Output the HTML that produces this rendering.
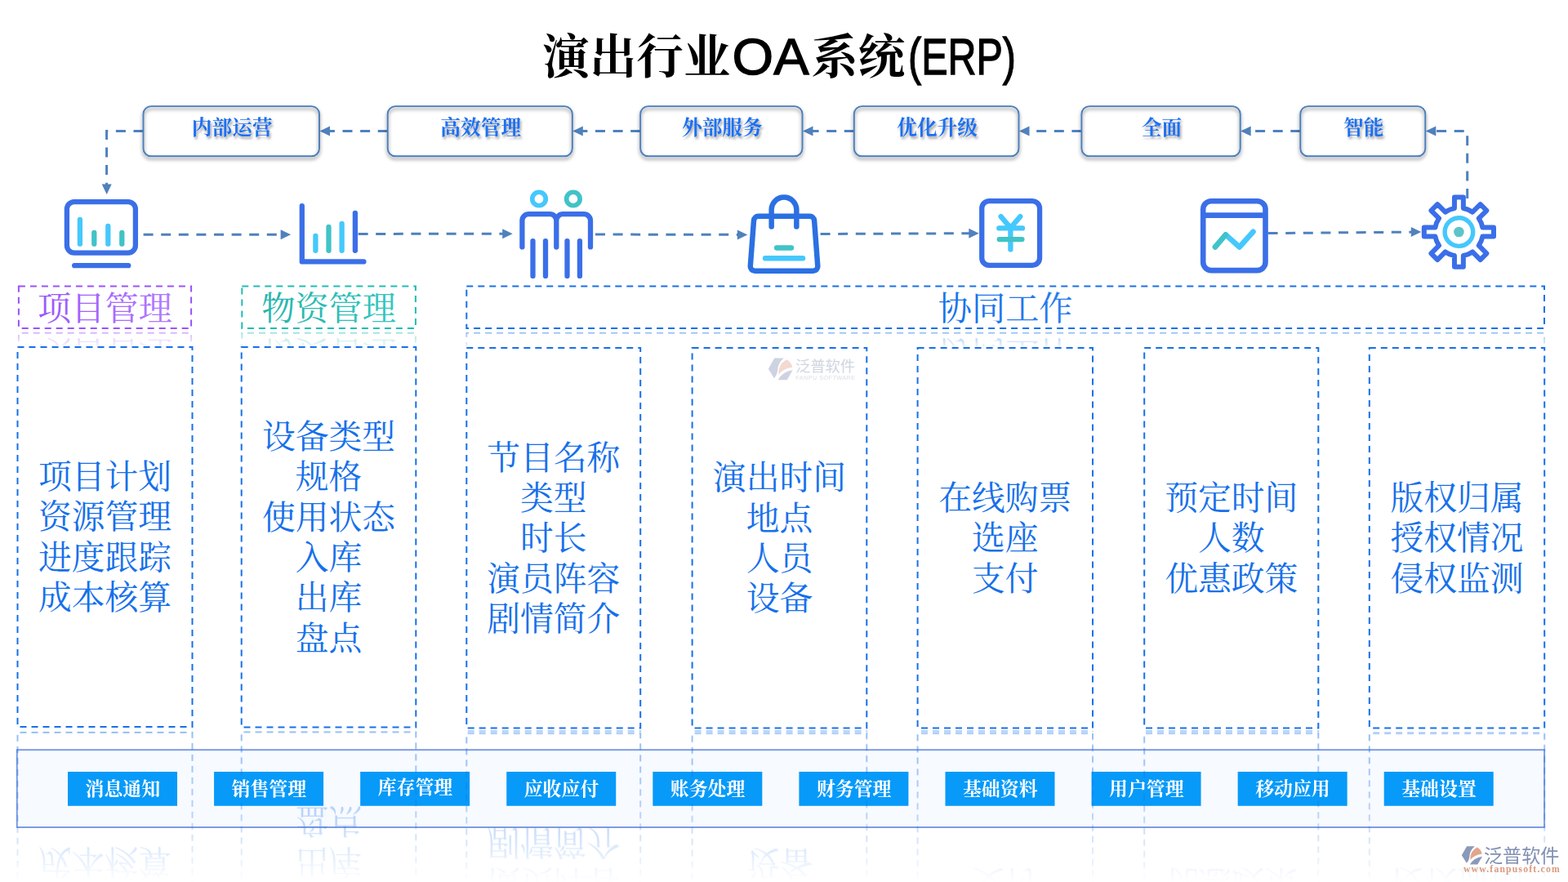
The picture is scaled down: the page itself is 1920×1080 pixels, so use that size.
<!DOCTYPE html>
<html lang="zh-CN"><head><meta charset="utf-8"><title>演出行业OA系统(ERP)</title>
<style>
html,body{margin:0;padding:0;background:#fff;}
body{width:1920px;height:1080px;overflow:hidden;font-family:"Liberation Sans",sans-serif;}
svg{display:block;}
svg text{font-family:"Liberation Sans",sans-serif;}
svg text.cs{font-family:"Liberation Serif","Noto Serif CJK SC",serif;}
svg text.cn{font-family:"Liberation Sans","Noto Sans CJK SC",sans-serif;}
</style></head><body>
<svg width="1920" height="1080" viewBox="0 0 1920 1080" role="img" aria-label="演出行业OA系统(ERP)">
<defs><filter id="bsh" x="-5%" y="-20%" width="110%" height="150%"><feDropShadow dx="0" dy="3" stdDeviation="1.9" flood-color="#000" flood-opacity=".5"/></filter><filter id="tsh" x="-10%" y="-30%" width="120%" height="170%"><feDropShadow dx="1.6" dy="3" stdDeviation="1.7" flood-color="#000" flood-opacity=".36"/></filter><linearGradient id="gp" gradientUnits="userSpaceOnUse" x1="0" y1="0" x2="4000" y2="0"><stop offset="0" stop-color="#9a55fc"/><stop offset="1" stop-color="#b27bff"/></linearGradient><linearGradient id="gt" gradientUnits="userSpaceOnUse" x1="0" y1="0" x2="4000" y2="0"><stop offset="0" stop-color="#27b3ac"/><stop offset="1" stop-color="#33c6c0"/></linearGradient><linearGradient id="gb" gradientUnits="userSpaceOnUse" x1="0" y1="0" x2="4000" y2="0"><stop offset="0" stop-color="#1670ea"/><stop offset="1" stop-color="#2a7cf0"/></linearGradient><linearGradient id="fh" x1="0" y1="0" x2="0" y2="1"><stop offset="0" stop-color="#fff" stop-opacity=".46"/><stop offset="1" stop-color="#fff" stop-opacity="0"/></linearGradient><mask id="mh" maskUnits="userSpaceOnUse" x="0" y="404" width="1920" height="30"><rect x="0" y="404.8" width="1920" height="23.5" fill="url(#fh)"/></mask><linearGradient id="fc" x1="0" y1="0" x2="0" y2="1"><stop offset="0" stop-color="#fff" stop-opacity=".46"/><stop offset=".6" stop-color="#fff" stop-opacity=".25"/><stop offset=".8" stop-color="#fff" stop-opacity=".13"/><stop offset=".97" stop-color="#fff" stop-opacity=".012"/><stop offset="1" stop-color="#fff" stop-opacity="0"/></linearGradient><mask id="mc" maskUnits="userSpaceOnUse" x="0" y="893" width="1920" height="190"><rect x="0" y="893.3" width="1920" height="190" fill="url(#fc)"/></mask><clipPath id="cl2"><rect x="560" y="894.2" width="1100" height="1.6"/></clipPath></defs>
<g id="title"><text class="cs" x="664.3" y="90.3" font-size="57.6" font-weight="bold" fill="#000">演出行业</text><text x="896.6" y="90.8" font-size="62.4" textLength="94" lengthAdjust="spacingAndGlyphs" fill="#000" stroke="#000" stroke-width="1.3">OA</text><text class="cs" x="993.2" y="90.3" font-size="57.6" font-weight="bold" fill="#000">系统</text><text x="1112" y="90.8" font-size="62.4" textLength="132" lengthAdjust="spacingAndGlyphs" fill="#000" stroke="#000" stroke-width="1.3">(ERP)</text></g><g id="conn" fill="none" stroke="#4f81bd" stroke-width="3" stroke-dasharray="12 9.6"><path d="M474.7 160.6H399"/><path d="M784.2 160.6H708.8"/><path d="M1045.8 160.6H990.5"/><path d="M1324.4 160.6H1255.5"/><path d="M1592.3 160.6H1526.7"/><path d="M175.5 160.6H130.6V228"/><path d="M1796.7 243V160.6H1755"/><path d="M175.6 287.3L345 287.3"/><path d="M438.6 286.4L617 286.3"/><path d="M729 287L904 287.4"/><path d="M1004.6 286.5L1188 285.7"/><path d="M1552.6 285.6L1729 284.1"/></g><g fill="#4f81bd"><path d="M391.5 160.6L404 154.6L404 166.6z"/><path d="M701.3 160.6L713.8 154.6L713.8 166.6z"/><path d="M983 160.6L995.5 154.6L995.5 166.6z"/><path d="M1248 160.6L1260.5 154.6L1260.5 166.6z"/><path d="M1519.2 160.6L1531.7 154.6L1531.7 166.6z"/><path d="M1745.8 160.6L1758.3 154.6L1758.3 166.6z"/><path d="M130.7 237.9L124.7 225.4L136.7 225.4z"/><path d="M356.1 287.3L343.6 281.3L343.6 293.3z"/><path d="M627.7 286.3L615.2 280.3L615.2 292.3z"/><path d="M915.3 287.4L902.8 281.4L902.8 293.4z"/><path d="M1198.8 285.7L1186.3 279.7L1186.3 291.7z"/><path d="M1740.3 284.1L1727.8 278.1L1727.8 290.1z"/></g><g id="topboxes"><g fill="none" stroke="#4a7ebb" stroke-width="1.9" filter="url(#bsh)"><rect x="175.5" y="130.1" width="215.5" height="61.2" rx="9.5"/><rect x="474.7" y="130.1" width="226.1" height="61.2" rx="9.5"/><rect x="784.2" y="130.1" width="198.3" height="61.2" rx="9.5"/><rect x="1045.8" y="130.1" width="201.7" height="61.2" rx="9.5"/><rect x="1324.4" y="130.1" width="194.3" height="61.2" rx="9.5"/><rect x="1592.3" y="130.1" width="153" height="61.2" rx="9.5"/></g><g fill="#1f6ff0" filter="url(#tsh)" font-size="24.7" font-weight="bold"><text class="cs" x="234.85" y="164.59">内部运营</text><text class="cs" x="539.35" y="164.59">高效管理</text><text class="cs" x="834.95" y="164.59">外部服务</text><text class="cs" x="1098.25" y="164.59">优化升级</text><text class="cs" x="1397.85" y="164.59">全面</text><text class="cs" x="1645.1" y="164.59">智能</text></g></g><g id="icons" fill="none" stroke-linecap="round" stroke-linejoin="round" stroke-width="6.3" stroke="#3b6fe8"><rect x="81.9" y="247.1" width="84" height="62.5" rx="9"/><path d="M91.2 325.2H157.2"/><path stroke="#45c8fd" d="M97.9 269V298.7M132.3 277V298.7"/><path stroke="#41c3c7" d="M115.3 285V298.7M149.3 285V298.7"/><path d="M369.8 252.2V320.4H445.4M434.9 260.8V306.8"/><path stroke="#45c8fd" d="M386.4 289V306.8M418.6 273.8V306.8"/><path stroke="#41c3c7" d="M402.5 278V306.8"/><circle cx="660" cy="243.5" r="8.25" stroke="#45c8fd" stroke-width="5.7"/><circle cx="701.9" cy="243.5" r="8.25" stroke="#41c3c7" stroke-width="5.7"/><path d="M639.4 302.4V270.2a8 8 0 0 1 8-8H673.3a8 8 0 0 1 8 8V302.6M681.3 270.2a8 8 0 0 1 8-8H715a8 8 0 0 1 8 8V302.4M652.5 295.1V337.9M668 295.1V337.9M694.5 295.1V337.9M709.9 295.1V337.9"/><g stroke="#2b70e3" stroke-width="6.5"><path d="M928.5 264.8H991.6a5.5 5.5 0 0 1 5.5 5.1L1001.3 325.8a5.6 5.6 0 0 1-5.6 6H924.4a5.6 5.6 0 0 1-5.6-6L923 269.9a5.5 5.5 0 0 1 5.5-5.1zM944.65 277.6V256.85a15.35 15.35 0 0 1 30.7 0V277.6"/><path stroke="#41c3c7" d="M951.2 303.4H968.9"/><path stroke="#45c8fd" d="M937.1 316.3H983"/></g><rect x="1202.25" y="246.05" width="70.8" height="78.9" rx="9"/><path stroke="#45c8fd" d="M1225.6 265.1L1237.4 279L1249.3 265.1M1223.3 279.4H1252M1237.4 279V305.4"/><path stroke="#41c3c7" d="M1223.7 293.1H1251.4"/><g stroke-width="6.6"><rect x="1473.2" y="246.2" width="76.3" height="84.9" rx="10"/><path d="M1473.2 263.6H1549.5" stroke-linecap="butt"/><path stroke="#45c8fd" d="M1500.8 287.4L1517.7 302.5L1534.5 283.8"/><path stroke="#41c3c7" d="M1487.9 302.5L1500.8 287.4"/></g><path stroke-width="6" d="M1780.95 255.06L1780.95 241.45L1791.85 241.45L1791.85 255.06A29.5 29.5 0 0 1 1803.05 259.7L1812.67 250.07L1820.38 257.78L1810.75 267.4A29.5 29.5 0 0 1 1815.39 278.6L1829 278.6L1829 289.5L1815.39 289.5A29.5 29.5 0 0 1 1810.75 300.7L1820.38 310.32L1812.67 318.03L1803.05 308.4A29.5 29.5 0 0 1 1791.85 313.04L1791.85 326.65L1780.95 326.65L1780.95 313.04A29.5 29.5 0 0 1 1769.75 308.4L1760.13 318.03L1752.42 310.32L1762.05 300.7A29.5 29.5 0 0 1 1757.41 289.5L1743.8 289.5L1743.8 278.6L1757.41 278.6A29.5 29.5 0 0 1 1762.05 267.4L1752.42 257.78L1760.13 250.07L1769.75 259.7A29.5 29.5 0 0 1 1780.95 255.06z"/><circle cx="1786.4" cy="284.05" r="17.3" stroke="#45c8fd" stroke-width="5.4"/><circle cx="1786.4" cy="284.05" r="6.3" fill="#5cc5c9" stroke="none"/></g><g id="heads"><rect x="22.9" y="350.6" width="211.2" height="51.4" fill="none" stroke="#9a52fc" stroke-width="2" stroke-dasharray="8 6"/><g fill="url(#gp)" transform="translate(46.1 391.66) scale(0.0412 0.0412)"><text class="cs" x="0" y="0" font-size="1000">项目管理</text></g><rect x="296.3" y="350.6" width="212.6" height="51.4" fill="none" stroke="#1fbdb4" stroke-width="2" stroke-dasharray="8 6"/><g fill="url(#gt)" transform="translate(320.2 391.66) scale(0.0412 0.0412)"><text class="cs" x="0" y="0" font-size="1000">物资管理</text></g><rect x="571.3" y="350.6" width="1319.7" height="51.4" fill="none" stroke="#1670ea" stroke-width="2" stroke-dasharray="8 6"/><g fill="url(#gb)" transform="translate(1148.75 391.66) scale(0.0412 0.0412)"><text class="cs" x="0" y="0" font-size="1000">协同工作</text></g></g><g mask="url(#mh)"><use href="#heads" transform="matrix(1 0 0 -1 0 809.7)"/></g><g id="colsA" fill="#1670ea" font-size="40.8"><g id="colsAr" fill="none" stroke="#1670ea" stroke-width="2" stroke-dasharray="8 6"><rect x="21.5" y="425" width="214" height="465"/><rect x="295.7" y="425" width="213.6" height="465.6"/></g><text class="cs" x="46.9" y="598.05">项目计划</text><text class="cs" x="46.9" y="647.35">资源管理</text><text class="cs" x="46.9" y="696.65">进度跟踪</text><text class="cs" x="46.9" y="745.95">成本核算</text><text class="cs" x="320.9" y="549.05">设备类型</text><text class="cs" x="361.7" y="598.35">规格</text><text class="cs" x="320.9" y="647.65">使用状态</text><text class="cs" x="361.7" y="696.95">入库</text><text class="cs" x="361.7" y="746.25">出库</text><text class="cs" x="361.7" y="795.55">盘点</text></g><g id="colsB" fill="#1670ea" font-size="40.8"><g id="colsBr" fill="none" stroke="#1670ea" stroke-width="2" stroke-dasharray="8 6"><rect x="571.3" y="426" width="212.9" height="465.6"/><rect x="847.6" y="426" width="213.7" height="465.6"/><rect x="1123.6" y="426" width="214.4" height="465.6"/><rect x="1401.2" y="426" width="213.1" height="465.6"/><rect x="1676.8" y="426" width="214.4" height="465.6"/></g><text class="cs" x="596.15" y="574.7">节目名称</text><text class="cs" x="636.95" y="624">类型</text><text class="cs" x="636.95" y="673.3">时长</text><text class="cs" x="596.15" y="722.6">演员阵容</text><text class="cs" x="596.15" y="771.9">剧情简介</text><text class="cs" x="872.85" y="599.35">演出时间</text><text class="cs" x="913.65" y="648.65">地点</text><text class="cs" x="913.65" y="697.95">人员</text><text class="cs" x="913.65" y="747.25">设备</text><text class="cs" x="1149.2" y="624">在线购票</text><text class="cs" x="1190" y="673.3">选座</text><text class="cs" x="1190" y="722.6">支付</text><text class="cs" x="1426.15" y="624">预定时间</text><text class="cs" x="1466.95" y="673.3">人数</text><text class="cs" x="1426.15" y="722.6">优惠政策</text><text class="cs" x="1702.4" y="624">版权归属</text><text class="cs" x="1702.4" y="673.3">授权情况</text><text class="cs" x="1702.4" y="722.6">侵权监测</text></g><g id="bottom"><rect x="20.8" y="918.2" width="1870.3" height="94.8" fill="#f7faff" stroke="#7d9ce2" stroke-width="2"/><g fill="#079af9"><rect x="83" y="945" width="134" height="41.8"/><rect x="262.08" y="945" width="134" height="41.8"/><rect x="441.16" y="945" width="134" height="41.8"/><rect x="620.24" y="945" width="134" height="41.8"/><rect x="799.32" y="945" width="134" height="41.8"/><rect x="978.4" y="945" width="134" height="41.8"/><rect x="1157.48" y="945" width="134" height="41.8"/><rect x="1336.56" y="945" width="134" height="41.8"/><rect x="1515.64" y="945" width="134" height="41.8"/><rect x="1694.72" y="945" width="134" height="41.8"/></g><g mask="url(#mc)"><use href="#colsA" transform="matrix(1 0 0 -1 0 1786.9)"/><use href="#colsB" transform="matrix(1 0 0 -1 0 1789.4)"/></g><g clip-path="url(#cl2)" opacity=".3"><use href="#colsBr" transform="matrix(1 0 0 -1 0 1786.6)"/></g><g fill="#fff" font-size="22.9" font-weight="bold"><text class="cs" x="104.5" y="973.9">消息通知</text><text class="cs" x="283.58" y="973.9">销售管理</text><text class="cs" x="462.66" y="971.7">库存管理</text><text class="cs" x="641.74" y="973.9">应收应付</text><text class="cs" x="820.82" y="973.9">账务处理</text><text class="cs" x="999.9" y="973.9">财务管理</text><text class="cs" x="1178.98" y="973.9">基础资料</text><text class="cs" x="1358.06" y="973.9">用户管理</text><text class="cs" x="1537.14" y="973.9">移动应用</text><text class="cs" x="1716.22" y="973.9">基础设置</text></g></g><g id="logos"><g transform="translate(930 430) scale(.0677)"><path fill="#cdd3e0" d="M160 320L270 125H440Q335 215 330 330Q325 425 265 490z M335 520Q420 370 600 345L500 520z"/><path fill="#f3d9cf" d="M345 420Q335 235 490 150Q575 195 595 290Q430 310 345 420z"/></g><text class="cn" x="974.1" y="455.33" font-size="18.2" fill="#d0d5e2">泛普软件</text><text x="974.2" y="464.9" font-size="7.1" textLength="72.8" lengthAdjust="spacing" fill="#dde0e9">FANPU SOFTWARE</text><g transform="translate(1780.64 1029.09) scale(0.0573 0.0567)"><path fill="#8b99b9" d="M160 320L270 125H440Q335 215 330 330Q325 425 265 490z M335 520Q420 370 600 345L500 520z"/><path fill="#e2a68c" d="M345 420Q335 235 490 150Q575 195 595 290Q430 310 345 420z"/></g><text class="cn" x="1817" y="1056.38" font-size="23.1" fill="#8190b3">泛普软件</text><text x="1792" y="1067.8" font-size="11.6" font-weight="bold" textLength="117.6" lengthAdjust="spacing" fill="#dc9a7c" style="font-family:'Liberation Serif',serif">www.fanpusoft.com</text></g>
</svg>
</body></html>
